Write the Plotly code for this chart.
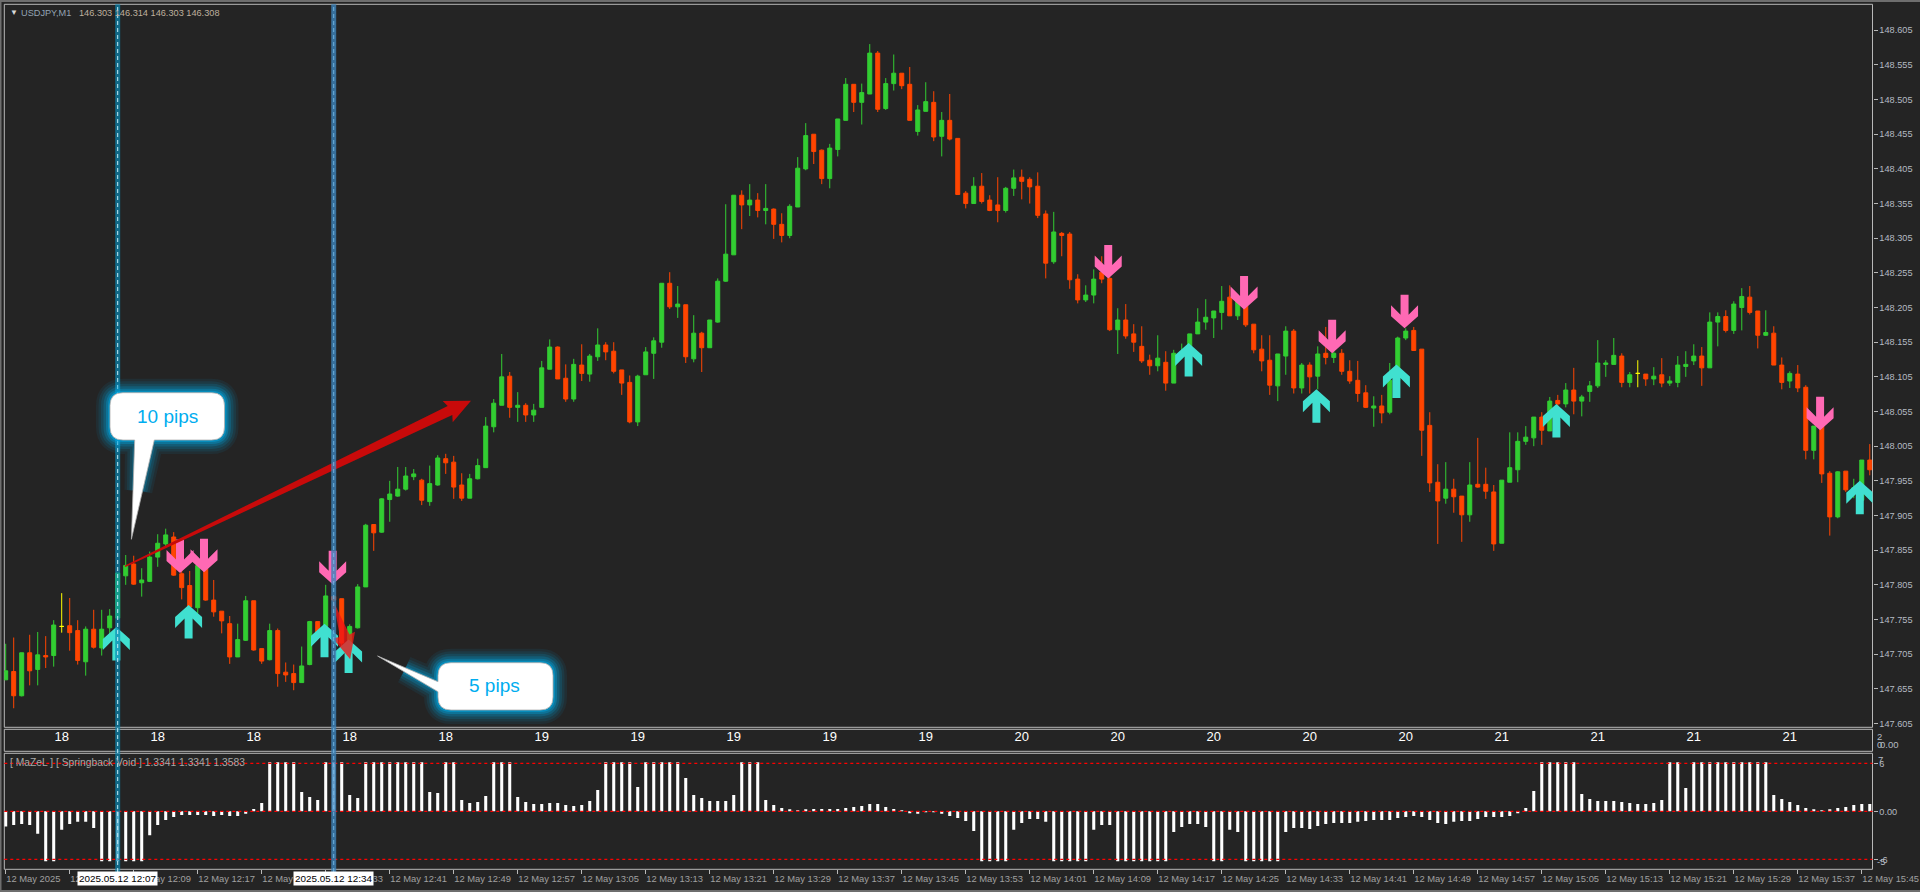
import pandas as pd
import plotly.graph_objects as go

W, H = 1920, 892
BG = "#242424"
GREEN, ORANGE, YELLOW = "#32CD32", "#FF4500", "#FFFF00"
TURQ, PINK = "#40E0D0", "#FF69B4"
FONT = "Liberation Sans"

open_ = [
147.668,147.680,147.645,147.707,147.683,147.703,147.703,147.745,147.746,147.739,
147.694,147.741,147.714,147.743,147.757,147.818,147.835,147.808,147.810,147.845,
147.864,147.874,147.821,147.804,147.772,147.829,147.783,147.767,147.749,147.701,
147.725,147.782,147.713,147.697,147.739,147.679,147.677,147.664,147.690,147.752,
147.745,147.788,147.785,147.721,147.743,147.802,147.892,147.881,147.928,147.933,
147.943,147.961,147.956,147.925,147.949,147.987,147.982,147.949,147.930,147.958,
147.974,148.033,148.064,148.106,148.061,148.064,148.050,148.061,148.116,148.148,
148.103,148.073,148.122,148.109,148.134,148.151,148.142,148.115,148.097,148.040,
148.108,148.139,148.155,148.240,148.206,148.209,148.131,148.168,148.147,148.184,
148.243,148.281,148.367,148.353,148.360,148.345,148.347,148.325,148.309,148.350,
148.405,148.455,148.432,148.391,148.433,148.475,148.527,148.501,148.513,148.572,
148.492,148.528,148.543,148.527,148.459,148.488,148.501,148.452,148.475,148.449,
148.370,148.355,148.380,148.360,148.353,148.345,148.377,148.393,148.390,148.380,
148.340,148.271,148.312,148.311,148.246,148.216,148.223,148.256,148.247,148.173,
148.187,148.167,148.149,148.129,148.121,148.126,148.096,148.138,148.139,148.167,
148.184,148.190,148.198,148.220,148.193,148.220,148.181,148.145,148.129,148.092,
148.135,148.171,148.089,148.122,148.106,148.139,148.133,148.139,148.113,148.100,
148.082,148.060,148.063,148.054,148.100,148.161,148.172,148.145,148.035,147.953,
147.930,147.943,147.933,147.906,147.950,147.950,147.939,147.865,147.953,147.971,
148.012,148.017,148.047,148.027,148.071,148.066,148.086,148.070,148.084,148.092,
148.123,148.123,148.135,148.097,148.110,148.109,148.102,148.108,148.096,148.097,
148.120,148.128,148.135,148.118,148.184,148.192,148.172,148.205,148.220,148.200,
148.165,148.168,148.122,148.099,148.109,148.090,147.999,148.043,147.966,147.903,
147.969,147.937,147.927,147.985]

high = [
147.720,147.729,147.707,147.733,147.737,147.731,147.754,147.793,147.786,147.754,
147.745,147.769,147.769,147.770,147.822,147.848,147.847,147.829,147.853,147.878,
147.886,147.881,147.831,147.825,147.838,147.841,147.812,147.767,147.760,147.749,
147.789,147.782,147.713,147.749,147.742,147.693,147.690,147.716,147.753,147.752,
147.805,147.788,147.785,147.748,147.806,147.893,147.892,147.930,147.955,147.975,
147.975,147.972,147.958,147.977,147.992,147.994,147.991,147.966,147.965,147.987,
148.047,148.073,148.138,148.112,148.083,148.067,148.066,148.128,148.159,148.149,
148.123,148.131,148.152,148.138,148.175,148.155,148.155,148.115,148.107,148.108,
148.148,148.162,148.240,148.256,148.236,148.209,148.194,148.170,148.187,148.247,
148.354,148.367,148.374,148.383,148.370,148.383,148.348,148.341,148.354,148.422,
148.471,148.455,148.433,148.441,148.477,148.536,148.527,148.528,148.585,148.575,
148.536,148.570,148.543,148.552,148.497,148.530,148.517,148.487,148.513,148.449,
148.373,148.393,148.399,148.367,148.393,148.379,148.404,148.404,148.393,148.400,
148.345,148.343,148.314,148.314,148.253,148.237,148.260,148.279,148.250,148.204,
148.210,148.181,148.178,148.137,148.165,148.142,148.144,148.153,148.167,148.204,
148.217,148.200,148.236,148.237,148.216,148.222,148.181,148.165,148.165,148.138,
148.178,148.174,148.125,148.126,148.149,148.177,148.158,148.145,148.129,148.128,
148.093,148.077,148.079,148.125,148.163,148.175,148.177,148.145,148.054,147.979,
147.982,147.958,147.933,147.982,148.017,147.974,147.949,147.956,148.025,148.025,
148.034,148.047,148.054,148.076,148.079,148.096,148.118,148.079,148.099,148.158,
148.129,148.161,148.139,148.112,148.129,148.109,148.119,148.132,148.106,148.135,
148.142,148.152,148.148,148.198,148.198,148.201,148.214,148.233,148.236,148.200,
148.201,148.178,148.133,148.113,148.122,148.093,148.034,148.043,147.969,147.969,
147.969,147.958,147.985,148.008]

low = [
147.668,147.627,147.644,147.660,147.660,147.685,147.687,147.736,147.710,147.690,
147.674,147.713,147.703,147.728,147.757,147.805,147.805,147.788,147.809,147.831,
147.860,147.818,147.784,147.767,147.764,147.782,147.759,147.735,147.691,147.701,
147.724,147.710,147.691,147.696,147.658,147.665,147.653,147.664,147.689,147.735,
147.740,147.764,147.715,147.710,147.742,147.802,147.854,147.880,147.896,147.932,
147.941,147.956,147.920,147.919,147.948,147.965,147.929,147.926,147.930,147.957,
147.974,148.025,148.064,148.046,148.040,148.040,148.040,148.061,148.116,148.102,
148.069,148.069,148.099,148.098,148.128,148.129,148.110,148.079,148.038,148.034,
148.108,148.102,148.147,148.203,148.190,148.125,148.126,148.112,148.147,148.183,
148.242,148.281,148.318,148.337,148.335,148.325,148.304,148.299,148.305,148.350,
148.403,148.412,148.383,148.377,148.423,148.475,148.487,148.469,148.513,148.487,
148.490,148.518,148.520,148.475,148.453,148.488,148.445,148.423,148.446,148.368,
148.348,148.355,148.355,148.344,148.328,148.342,148.366,148.361,148.355,148.334,
148.247,148.268,148.279,148.232,148.211,148.213,148.211,148.240,148.171,148.138,
148.160,148.141,148.125,148.108,148.113,148.085,148.096,148.135,148.139,148.167,
148.173,148.161,148.173,148.193,148.187,148.177,148.139,148.113,148.079,148.070,
148.108,148.081,148.081,148.081,148.087,148.123,148.125,148.108,148.095,148.069,
148.060,148.033,148.038,148.051,148.100,148.158,148.143,147.991,147.939,147.864,
147.922,147.909,147.867,147.896,147.945,147.929,147.854,147.865,147.953,147.953,
148.007,148.005,148.007,148.027,148.062,148.061,148.051,148.048,148.069,148.089,
148.105,148.123,148.090,148.090,148.090,148.092,148.093,148.090,148.092,148.090,
148.105,148.122,148.092,148.118,148.149,148.169,148.167,148.172,148.195,148.146,
148.164,148.122,148.087,148.089,148.083,147.986,147.986,147.952,147.876,147.901,
147.939,147.930,147.927,147.963]

close = [
147.681,147.645,147.707,147.681,147.704,147.701,147.747,147.745,147.736,147.696,
147.741,147.715,147.741,147.760,147.822,147.833,147.806,147.812,147.845,147.865,
147.877,147.819,147.801,147.773,147.833,147.783,147.766,147.753,147.701,147.726,
147.782,147.711,147.695,147.739,147.677,147.675,147.664,147.688,147.752,147.736,
147.789,147.783,147.721,147.745,147.802,147.891,147.880,147.929,147.936,147.943,
147.962,147.965,147.927,147.951,147.988,147.981,147.946,147.930,147.958,147.977,
148.034,148.067,148.105,148.061,148.064,148.050,148.057,148.118,148.148,148.102,
148.073,148.123,148.110,148.135,148.151,148.141,148.113,148.096,148.040,148.106,
148.141,148.157,148.240,148.206,148.210,148.134,148.168,148.147,148.187,148.243,
148.282,148.367,148.353,148.360,148.345,148.348,148.325,148.309,148.351,148.406,
148.453,148.430,148.391,148.435,148.477,148.527,148.501,148.515,148.572,148.491,
148.528,148.543,148.525,148.475,148.490,148.502,148.451,148.475,148.448,148.368,
148.355,148.380,148.358,148.345,148.345,148.377,148.392,148.387,148.379,148.338,
148.269,148.314,148.309,148.245,148.216,148.223,148.246,148.246,148.173,148.187,
148.164,148.155,148.128,148.121,148.132,148.096,148.139,148.141,148.167,148.184,
148.191,148.200,148.214,148.193,148.216,148.180,148.144,148.128,148.093,148.138,
148.171,148.089,148.122,148.105,148.138,148.133,148.139,148.113,148.099,148.081,
148.061,148.063,148.053,148.100,148.161,148.171,148.143,148.028,147.952,147.926,
147.943,147.932,147.906,147.949,147.946,147.940,147.864,147.956,147.974,148.012,
148.018,148.047,148.028,148.070,148.066,148.086,148.070,148.076,148.092,148.125,
148.125,148.136,148.097,148.108,148.110,148.102,148.106,148.096,148.099,148.122,
148.123,148.135,148.118,148.184,148.192,148.172,148.210,148.221,148.198,148.165,
148.169,148.122,148.097,148.110,148.089,147.999,148.034,147.965,147.903,147.968,
147.942,147.945,147.985,147.971]

void_hist = [
-1.9,-1.7,-1.6,-1.7,-2.8,-6.25,-6.25,-2.3,-1.6,-1.3,
-1.3,-2.1,-6.25,-6.25,-6.25,-6.25,-6.25,-6.25,-3.0,-1.7,
-1.1,-0.7,-0.45,-0.45,-0.45,-0.45,-0.6,-0.45,-0.6,-0.6,
-0.3,0.3,1.05,6.12,6.12,6.12,6.12,2.4,1.8,1.4,
6.12,6.12,6.12,2.05,1.65,6.12,6.12,6.12,6.12,6.12,
6.12,6.12,6.12,2.4,2.3,6.12,6.12,1.4,1.05,1.15,
1.9,6.12,6.12,6.12,1.8,1.15,0.9,0.9,1.05,1.05,
0.8,0.65,0.8,1.3,2.65,6.12,6.12,6.12,6.12,3.05,
6.12,6.12,6.12,6.12,6.12,4.15,2.05,1.65,1.3,1.3,
1.3,2.05,6.12,6.12,6.12,1.4,0.8,0.4,0.25,0.1,
0.15,0.3,0.3,0.3,0.3,0.4,0.55,0.65,0.9,0.9,
0.55,0.3,0.05,-0.2,-0.3,-0.1,-0.1,-0.3,-0.6,-0.85,
-1.2,-2.45,-6.25,-6.25,-6.25,-6.25,-2.3,-1.45,-0.95,-0.95,
-1.3,-6.25,-6.25,-6.25,-6.25,-6.25,-2.3,-1.7,-1.7,-6.25,
-6.25,-6.25,-6.25,-6.25,-6.25,-6.25,-2.6,-1.95,-1.6,-1.6,
-1.95,-6.25,-6.25,-2.3,-2.6,-6.25,-6.25,-6.25,-6.25,-6.25,
-2.6,-2.1,-2.1,-2.2,-1.85,-1.6,-1.45,-1.45,-1.45,-1.3,
-1.2,-1.1,-1.1,-1.1,-0.85,-0.7,-0.6,-0.7,-1.1,-1.45,
-1.6,-1.3,-1.2,-1.2,-0.95,-0.7,-0.7,-0.7,-0.6,-0.2,
0.4,2.55,6.12,6.12,6.12,6.12,6.12,2.15,1.55,1.3,
1.3,1.3,1.15,1.05,0.9,0.9,1.05,1.4,6.12,6.12,
2.9,6.12,6.12,6.12,6.12,6.12,6.12,6.12,6.12,6.12,
6.12,2.05,1.55,1.15,0.8,0.4,0.15,0.1,0.15,0.4,
0.55,0.8,0.9,0.9]

sep_bars = [7, 19, 31, 43, 55, 67, 79, 91, 103, 115, 127, 139, 151, 163, 175, 187, 199, 211, 223]
sep_labels = ["18", "18", "18", "18", "18", "19", "19", "19", "19", "19",
              "20", "20", "20", "20", "20", "21", "21", "21", "21"]

up_bars = [13.83, 22.86, 39.85, 42.86, 147.86, 163.83, 173.83, 193.83, 231.75]
up_prices = [147.744, 147.776, 147.749, 147.726, 148.154, 148.087, 148.123, 148.066, 147.955]
down_bars = [21.79, 24.79, 40.87, 137.81, 154.79, 165.80, 174.85, 226.79]
down_prices = [147.822, 147.823, 147.806, 148.247, 148.202, 148.139, 148.175, 148.028]

price_ticks = [round(147.605 + 0.05 * k, 3) for k in range(21)]
time_tick_bars = list(range(0, 234, 8))

START = pd.Timestamp("2025-05-12 11:53:00")
def t(i):
    return (START + pd.Timedelta(minutes=i)).strftime("%Y-%m-%d %H:%M:%S.%f")[:-3]

times = [t(i) for i in range(len(open_))]
tick_text = ["12 May 2025"] + [(START + pd.Timedelta(minutes=i)).strftime("12 May %H:%M") for i in time_tick_bars[1:]]

def fx(x): return x / W
def fy(y): return 1 - y / H
def P(x, y): return f"{fx(x):.6f} {fy(y):.6f}"

fig = go.Figure()

normal = [i for i in range(len(open_)) if open_[i] != close[i]]
doji = [i for i in range(len(open_)) if open_[i] == close[i]]
pick = lambda arr, idx: [arr[i] for i in idx]
fig.add_trace(go.Candlestick(
    x=pick(times, normal), open=pick(open_, normal), high=pick(high, normal),
    low=pick(low, normal), close=pick(close, normal), xaxis="x", yaxis="y",
    increasing=dict(line=dict(color=GREEN, width=1), fillcolor=GREEN),
    decreasing=dict(line=dict(color=ORANGE, width=1), fillcolor=ORANGE),
    whiskerwidth=0, showlegend=False, hoverinfo="skip"))
fig.add_trace(go.Candlestick(
    x=pick(times, doji), open=pick(open_, doji), high=pick(high, doji),
    low=pick(low, doji), close=pick(close, doji), xaxis="x", yaxis="y",
    increasing=dict(line=dict(color=YELLOW, width=1), fillcolor=YELLOW),
    decreasing=dict(line=dict(color=YELLOW, width=1), fillcolor=YELLOW),
    whiskerwidth=0, showlegend=False, hoverinfo="skip"))
fig.add_trace(go.Scatter(
    x=[t(i) for i in sep_bars], y=[0.24] * len(sep_bars), text=sep_labels, mode="text",
    textfont=dict(color="#FFFFFF", size=13, family=FONT), xaxis="x2", yaxis="y2",
    showlegend=False, hoverinfo="skip"))
fig.add_trace(go.Bar(
    x=times, y=void_hist, marker=dict(color="#FFFFFF", line=dict(width=0)),
    xaxis="x3", yaxis="y3", showlegend=False, hoverinfo="skip"))

shapes = []

# panel frames and window edge
FRAME = "#B8B8B8"
for y0, y1 in [(4.3, 727.3), (729.3, 751.3), (753.3, 869.3)]:
    shapes.append(dict(type="rect", xref="paper", yref="paper", x0=fx(4.3), x1=fx(1872.5),
                       y0=fy(y1), y1=fy(y0), line=dict(color=FRAME, width=1), layer="below"))
for x0, x1, y0, y1 in [(0, W, 0, 2), (0, W, 890, 892), (0, 1.5, 0, H)]:
    shapes.append(dict(type="rect", xref="paper", yref="paper", x0=fx(x0), x1=fx(x1), y0=fy(y1), y1=fy(y0),
                       fillcolor="#6E6E6E", line=dict(width=0), layer="below"))

# indicator levels
for lvl in [6, 0, -6]:
    shapes.append(dict(type="line", xref="x3 domain", yref="y3", x0=0, x1=1, y0=lvl, y1=lvl,
                       line=dict(color="#FF0000", width=1.2, dash="3px,3px")))

# signal arrows
ARROW = [(0, 0), (13.5, 12), (13.5, 23), (4, 13.5), (4, 33.5), (-4, 33.5), (-4, 13.5), (-13.5, 23), (-13.5, 12)]
def arrow_path(sign):
    pts = [f"{x} {sign * y}" for x, y in ARROW]
    return "M " + " L ".join(pts) + " Z"
for b, p in zip(up_bars, up_prices):
    shapes.append(dict(type="path", xsizemode="pixel", ysizemode="pixel", xanchor=t(b), yanchor=p,
                       xref="x", yref="y", path=arrow_path(-1), fillcolor=TURQ, line=dict(width=0)))
for b, p in zip(down_bars, down_prices):
    shapes.append(dict(type="path", xsizemode="pixel", ysizemode="pixel", xanchor=t(b), yanchor=p,
                       xref="x", yref="y", path=arrow_path(1), fillcolor=PINK, line=dict(width=0)))

# red hand-drawn arrows
def poly(pts):
    return "M " + " L ".join(P(x, y) for x, y in pts) + " Z"
shapes.append(dict(type="path", xref="paper", yref="paper", fillcolor="#C80A0A", line=dict(width=0),
    path=poly([(124.5, 565.7), (447.7, 406), (442.7, 401), (471, 400.7), (452.7, 422.3), (452.3, 415), (125.5, 567)])))
shapes.append(dict(type="path", xref="paper", yref="paper", fillcolor="rgba(240,20,20,0.78)", line=dict(width=0),
    path=poly([(333.5, 601.7), (349.5, 634.5), (355, 631.7), (350.2, 659.3), (332.7, 638.3), (340, 637)])))

# vertical lines
B14 = t(14); B41 = t(41)
shapes.append(dict(type="line", xref="x", yref="paper", x0=B14, x1=B14, y0=fy(872), y1=fy(4.3),
                   line=dict(color="rgba(10,135,180,0.70)", width=5)))
shapes.append(dict(type="line", xref="x", yref="paper", x0=B14, x1=B14, y0=fy(872), y1=fy(4.3),
                   line=dict(color="#C5EDF7", width=1, dash="4px,3px")))
shapes.append(dict(type="line", xref="x", yref="paper", x0=B41, x1=B41, y0=fy(872), y1=fy(4.3),
                   line=dict(color="rgba(60,130,185,0.80)", width=5)))
shapes.append(dict(type="line", xref="x", yref="paper", x0=B41, x1=B41, y0=fy(872), y1=fy(4.3),
                   line=dict(color="rgba(120,190,235,0.85)", width=1, dash="4px,3px")))

# callouts
def rrect_path(x0, y0, x1, y1, r, tail_bottom=None, tail_left=None):
    s = [f"M {P(x0 + r, y0)}", f"L {P(x1 - r, y0)}", f"Q {P(x1, y0)} {P(x1, y0 + r)}",
         f"L {P(x1, y1 - r)}", f"Q {P(x1, y1)} {P(x1 - r, y1)}"]
    if tail_bottom:
        a, tip, b = tail_bottom
        s += [f"L {P(a, y1)}", f"L {P(*tip)}", f"L {P(b, y1)}"]
    s += [f"L {P(x0 + r, y1)}", f"Q {P(x0, y1)} {P(x0, y1 - r)}"]
    if tail_left:
        a, tip, b = tail_left
        s += [f"L {P(x0, a)}", f"L {P(*tip)}", f"L {P(x0, b)}"]
    s += [f"L {P(x0, y0 + r)}", f"Q {P(x0, y0)} {P(x0 + r, y0)}", "Z"]
    return " ".join(s)

callouts = [
    (rrect_path(110, 392.7, 224.5, 440, 13, tail_bottom=(154.3, (131.4, 539.3), 134.7)),
     rrect_path(110, 392.7, 224.5, 440, 13, tail_bottom=(150, (138.5, 490), 139))),
    (rrect_path(438, 662.7, 553, 710, 13, tail_left=(691.7, (377.6, 656), 681.7)),
     rrect_path(438, 662.7, 553, 710, 13, tail_left=(689, (405, 670), 684))),
]
for path, glow_path in callouts:
    for w, a in [(28, 0.08), (23, 0.10), (18, 0.14), (13, 0.20), (8, 0.30), (4, 0.45)]:
        shapes.append(dict(type="path", xref="paper", yref="paper", path=glow_path,
                           fillcolor="rgba(0,170,230,0)", line=dict(color=f"rgba(0,170,230,{a})", width=w)))
    shapes.append(dict(type="path", xref="paper", yref="paper", path=path,
                       fillcolor="#FFFFFF", line=dict(color="#B0B0B0", width=0.8)))

def ann(text, x, y, color, size, anchor="left", **kw):
    return dict(text=text, xref="paper", yref="paper", x=fx(x), y=fy(y), showarrow=False, xanchor=anchor,
                yanchor="middle", font=dict(color=color, size=size, family=FONT), borderpad=0, **kw)

AX = "#B4BAC2"
annotations = [
    ann("10 pips", 167.3, 416, "#00ADEF", 19, "center"),
    ann("5 pips", 494.7, 685.7, "#00ADEF", 19, "center"),
    ann("▼", 8.5, 12.7, "#D8D8D8", 8),
    ann("USDJPY,M1", 20, 12.7, "#93A3B3", 9.2),
    ann("146.303 146.314 146.303 146.308", 78.3, 12.7, "#BFB09E", 9.2),
    ann("[ MaZeL ] [ Springback Void ] 1.3341 1.3341 1.3583", 9, 762, "#A8A8A8", 10.3),
    ann("2", 1876, 736.7, AX, 9.5),
    ann("0", 1876, 744.7, AX, 9.5),
    ann("0.00", 1879, 744.7, AX, 9.5),
    ann("7", 1877, 759, AX, 9.5),
    ann("-5", 1876, 861, AX, 9.5),
    dict(text="2025.05.12 12:07", xref="paper", yref="paper", x=fx(117.3), y=fy(878.8), showarrow=False,
         xanchor="center", yanchor="middle", bgcolor="#FFFFFF", font=dict(color="#000000", size=9.9, family=FONT), borderpad=1),
    dict(text="2025.05.12 12:34", xref="paper", yref="paper", x=fx(333), y=fy(878.8), showarrow=False,
         xanchor="center", yanchor="middle", bgcolor="#FFFFFF", font=dict(color="#000000", size=9.9, family=FONT), borderpad=1),
]

x_range = [t(-0.175), t(233.34)]
dom_x = [fx(4.3), fx(1872.5)]
fig.update_layout(
    width=W, height=H, margin=dict(l=0, r=0, t=0, b=0, autoexpand=False),
    paper_bgcolor=BG, plot_bgcolor=BG, showlegend=False, boxgap=0.5, boxgroupgap=0, bargap=0.62,
    hovermode=False, font=dict(family=FONT),
    shapes=shapes, annotations=annotations,
    xaxis=dict(domain=dom_x, range=x_range, type="date", anchor="y", rangeslider=dict(visible=False), automargin=False,
               showgrid=False, zeroline=False, showticklabels=False, ticks=""),
    yaxis=dict(domain=[fy(727.3), fy(4.3)], range=[147.5995, 148.6424], side="right", anchor="x", automargin=False,
               tickmode="array", tickvals=price_ticks, ticktext=[f"{v:.3f}" for v in price_ticks],
               ticks="outside", ticklen=4, tickcolor=FRAME, showgrid=False, zeroline=False,
               tickfont=dict(color=AX, size=9.2, family=FONT)),
    xaxis2=dict(domain=dom_x, range=x_range, type="date", anchor="y2", matches="x", showgrid=False, automargin=False,
                zeroline=False, showticklabels=False, ticks=""),
    yaxis2=dict(domain=[fy(751.3), fy(729.3)], range=[-1, 1], side="right", anchor="x2", automargin=False,
                showgrid=False, zeroline=False, showticklabels=False, ticks=""),
    xaxis3=dict(domain=dom_x, range=x_range, type="date", anchor="y3", matches="x", showgrid=False, automargin=False,
                zeroline=False, tickmode="array", tickvals=[t(i) for i in time_tick_bars], ticktext=tick_text,
                ticks="outside", ticklen=4, tickcolor=FRAME, ticklabelposition="outside right", tickangle=0,
                tickfont=dict(color="#A0A0A0", size=9.4, family=FONT)),
    yaxis3=dict(domain=[fy(869.3), fy(753.3)], range=[-7.25, 7.25], side="right", anchor="x3", automargin=False,
                tickmode="array", tickvals=[6, 0, -6], ticktext=["6", "0.00", "-6"], ticks="outside", ticklen=4,
                tickcolor=FRAME, showgrid=False, zeroline=False,
                tickfont=dict(color=AX, size=9.2, family=FONT)),
)

fig.write_html("out.html", config={"displayModeBar": False},
               post_script="document.body.style.margin='0';document.body.style.overflow='hidden';")
